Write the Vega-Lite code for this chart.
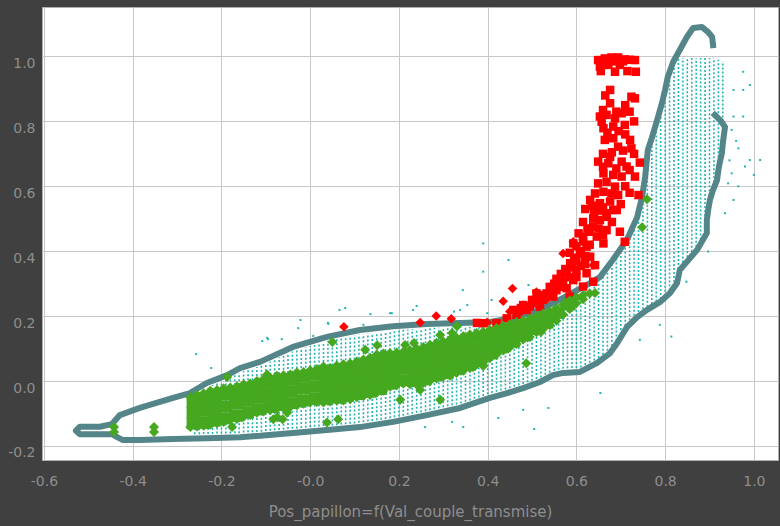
{
"$schema": "https://vega.github.io/schema/vega-lite/v6.json",
"width": 736, "height": 453,
"autosize": {"type": "none"},
"padding": {"left": 42, "top": 7, "right": 2, "bottom": 66},
"background": "#404040",
"config": {
 "view": {"fill": "#ffffff", "stroke": "#b0b0b0", "strokeWidth": 1},
 "axis": {"grid": true, "gridColor": "#c8c8c8", "gridWidth": 1, "domain": false, "ticks": false,
  "labelFont": "DejaVu Sans", "labelFontSize": 14, "labelColor": "#8e8e8e",
  "titleFont": "DejaVu Sans", "titleFontSize": 15, "titleColor": "#8e8e8e", "titleFontWeight": "normal",
  "labelFlush": false, "labelOverlap": false}
},
"datasets": {
 "cols": [
  {"x":-0.26,"y":-0.164,"y2":-0.041},{"x":-0.25,"y":-0.164,"y2":-0.033},{"x":-0.24,"y":-0.163,"y2":-0.025},{"x":-0.23,"y":-0.163,"y2":-0.017},{"x":-0.22,"y":-0.163,"y2":-0.012},{"x":-0.21,"y":-0.162,"y2":-0.007},{"x":-0.20,"y":-0.162,"y2":-0.002},{"x":-0.19,"y":-0.162,"y2":0.003},{"x":-0.18,"y":-0.162,"y2":0.010},{"x":-0.17,"y":-0.161,"y2":0.018},
  {"x":-0.16,"y":-0.161,"y2":0.025},{"x":-0.15,"y":-0.159,"y2":0.030},{"x":-0.14,"y":-0.158,"y2":0.034},{"x":-0.13,"y":-0.158,"y2":0.039},{"x":-0.12,"y":-0.157,"y2":0.043},{"x":-0.11,"y":-0.156,"y2":0.048},{"x":-0.10,"y":-0.154,"y2":0.054},{"x":-0.09,"y":-0.153,"y2":0.060},{"x":-0.08,"y":-0.152,"y2":0.066},{"x":-0.07,"y":-0.151,"y2":0.073},
  {"x":-0.06,"y":-0.150,"y2":0.079},{"x":-0.05,"y":-0.148,"y2":0.085},{"x":-0.04,"y":-0.147,"y2":0.091},{"x":-0.03,"y":-0.146,"y2":0.096},{"x":-0.02,"y":-0.145,"y2":0.100},{"x":-0.01,"y":-0.144,"y2":0.104},{"x":0.00,"y":-0.142,"y2":0.107},{"x":0.01,"y":-0.141,"y2":0.111},{"x":0.02,"y":-0.140,"y2":0.115},{"x":0.03,"y":-0.139,"y2":0.119},
  {"x":0.04,"y":-0.138,"y2":0.124},{"x":0.05,"y":-0.137,"y2":0.126},{"x":0.06,"y":-0.136,"y2":0.129},{"x":0.07,"y":-0.134,"y2":0.132},{"x":0.08,"y":-0.133,"y2":0.135},{"x":0.09,"y":-0.132,"y2":0.138},{"x":0.10,"y":-0.131,"y2":0.141},{"x":0.11,"y":-0.129,"y2":0.143},{"x":0.12,"y":-0.127,"y2":0.145},{"x":0.13,"y":-0.125,"y2":0.147},
  {"x":0.14,"y":-0.123,"y2":0.148},{"x":0.15,"y":-0.121,"y2":0.150},{"x":0.16,"y":-0.119,"y2":0.152},{"x":0.17,"y":-0.117,"y2":0.154},{"x":0.18,"y":-0.115,"y2":0.155},{"x":0.19,"y":-0.112,"y2":0.156},{"x":0.20,"y":-0.109,"y2":0.157},{"x":0.21,"y":-0.107,"y2":0.158},{"x":0.22,"y":-0.104,"y2":0.159},{"x":0.23,"y":-0.101,"y2":0.160},
  {"x":0.24,"y":-0.098,"y2":0.161},{"x":0.25,"y":-0.096,"y2":0.162},{"x":0.26,"y":-0.093,"y2":0.163},{"x":0.27,"y":-0.090,"y2":0.163},{"x":0.28,"y":-0.087,"y2":0.164},{"x":0.29,"y":-0.084,"y2":0.164},{"x":0.30,"y":-0.081,"y2":0.164},{"x":0.31,"y":-0.078,"y2":0.165},{"x":0.32,"y":-0.075,"y2":0.165},{"x":0.33,"y":-0.072,"y2":0.166},
  {"x":0.34,"y":-0.069,"y2":0.166},{"x":0.35,"y":-0.064,"y2":0.166},{"x":0.36,"y":-0.060,"y2":0.167},{"x":0.37,"y":-0.055,"y2":0.167},{"x":0.38,"y":-0.051,"y2":0.168},{"x":0.39,"y":-0.046,"y2":0.168},{"x":0.40,"y":-0.041,"y2":0.169},{"x":0.41,"y":-0.037,"y2":0.170},{"x":0.42,"y":-0.033,"y2":0.172},{"x":0.43,"y":-0.029,"y2":0.175},
  {"x":0.44,"y":-0.026,"y2":0.177},{"x":0.45,"y":-0.022,"y2":0.179},{"x":0.46,"y":-0.018,"y2":0.182},{"x":0.47,"y":-0.013,"y2":0.186},{"x":0.48,"y":-0.009,"y2":0.190},{"x":0.49,"y":-0.004,"y2":0.194},{"x":0.50,"y":0.001,"y2":0.198},{"x":0.51,"y":0.006,"y2":0.202},{"x":0.52,"y":0.011,"y2":0.207},{"x":0.53,"y":0.019,"y2":0.214},
  {"x":0.54,"y":0.026,"y2":0.221},{"x":0.55,"y":0.032,"y2":0.228},{"x":0.56,"y":0.035,"y2":0.236},{"x":0.57,"y":0.038,"y2":0.243},{"x":0.58,"y":0.039,"y2":0.250},{"x":0.59,"y":0.040,"y2":0.258},{"x":0.60,"y":0.040,"y2":0.266},{"x":0.61,"y":0.042,"y2":0.273},{"x":0.62,"y":0.049,"y2":0.281},{"x":0.63,"y":0.056,"y2":0.288},
  {"x":0.64,"y":0.063,"y2":0.300},{"x":0.65,"y":0.071,"y2":0.307},{"x":0.66,"y":0.081,"y2":0.323},{"x":0.67,"y":0.093,"y2":0.341},{"x":0.68,"y":0.108,"y2":0.359},{"x":0.69,"y":0.125,"y2":0.378},{"x":0.70,"y":0.145,"y2":0.398},{"x":0.71,"y":0.170,"y2":0.417},{"x":0.72,"y":0.187,"y2":0.440},{"x":0.73,"y":0.201,"y2":0.474},
  {"x":0.74,"y":0.213,"y2":0.512},{"x":0.75,"y":0.221,"y2":0.575},{"x":0.76,"y":0.229,"y2":0.688},{"x":0.77,"y":0.237,"y2":0.739},{"x":0.78,"y":0.245,"y2":0.785},{"x":0.79,"y":0.253,"y2":0.833},{"x":0.80,"y":0.263,"y2":0.887},{"x":0.81,"y":0.279,"y2":0.953},{"x":0.82,"y":0.305,"y2":0.995},{"x":0.83,"y":0.333,"y2":0.995},
  {"x":0.84,"y":0.365,"y2":0.995},{"x":0.85,"y":0.381,"y2":0.995},{"x":0.86,"y":0.398,"y2":0.995},{"x":0.87,"y":0.414,"y2":0.995},{"x":0.88,"y":0.436,"y2":0.995},{"x":0.89,"y":0.459,"y2":0.995},{"x":0.90,"y":0.560,"y2":0.995},{"x":0.91,"y":0.600,"y2":0.995},{"x":0.92,"y":0.665,"y2":0.990},{"x":0.93,"y":0.750,"y2":0.985}
 ],
 "dots": [
  {"x":0.654,"y":-0.037},{"x":0.480,"y":-0.089},{"x":0.537,"y":-0.083},{"x":0.505,"y":-0.148},{"x":0.424,"y":-0.114},{"x":0.345,"y":-0.142},{"x":0.259,"y":-0.142},{"x":0.320,"y":-0.126},
  {"x":0.390,"y":0.424},{"x":0.447,"y":0.373},{"x":0.390,"y":0.337},{"x":0.492,"y":0.296},{"x":0.409,"y":0.250},{"x":0.788,"y":0.173},{"x":0.814,"y":0.137},{"x":0.743,"y":0.127},
  {"x":0.897,"y":0.399},{"x":0.848,"y":0.306},{"x":0.935,"y":0.517},{"x":0.344,"y":0.280},{"x":0.324,"y":0.214},{"x":0.240,"y":0.231},{"x":0.184,"y":0.209},{"x":-0.257,"y":0.083},
  {"x":-0.223,"y":0.040},{"x":-0.108,"y":0.123},{"x":-0.095,"y":0.129},{"x":-0.064,"y":0.129},{"x":-0.027,"y":0.163},{"x":0.007,"y":0.139},{"x":0.041,"y":0.176},{"x":0.066,"y":0.219},
  {"x":0.079,"y":0.225},{"x":0.136,"y":0.206},{"x":0.120,"y":0.173},{"x":0.180,"y":0.209},{"x":0.232,"y":0.219},{"x":0.338,"y":0.219},{"x":0.354,"y":0.234},{"x":0.399,"y":0.209},
  {"x":-0.022,"y":0.188},{"x":0.040,"y":0.179},{"x":-0.097,"y":0.133},{"x":0.976,"y":0.953},{"x":0.991,"y":0.912},{"x":0.954,"y":0.897},{"x":0.976,"y":0.897},{"x":0.954,"y":0.815},
  {"x":0.976,"y":0.815},{"x":0.965,"y":0.717},{"x":0.991,"y":0.681},{"x":0.980,"y":0.661},{"x":1.000,"y":0.635},{"x":0.942,"y":0.609},{"x":0.954,"y":0.558},{"x":0.950,"y":0.774},
  {"x":1.014,"y":0.681},{"x":0.960,"y":0.740},{"x":0.945,"y":0.680},{"x":0.950,"y":0.640},{"x":0.965,"y":0.600}
 ],
 "contour": [
  {"i":1,"x":0.912,"y":0.820},{"i":2,"x":0.924,"y":0.804},{"i":3,"x":0.935,"y":0.783},{"i":4,"x":0.930,"y":0.733},{"i":5,"x":0.928,"y":0.703},{"i":6,"x":0.921,"y":0.659},{"i":7,"x":0.917,"y":0.619},{"i":8,"x":0.908,"y":0.589},{"i":9,"x":0.901,"y":0.558},{"i":10,"x":0.897,"y":0.527},
  {"i":11,"x":0.894,"y":0.496},{"i":12,"x":0.894,"y":0.456},{"i":13,"x":0.872,"y":0.404},{"i":14,"x":0.849,"y":0.367},{"i":15,"x":0.833,"y":0.342},{"i":16,"x":0.827,"y":0.302},{"i":17,"x":0.811,"y":0.271},{"i":18,"x":0.788,"y":0.243},{"i":19,"x":0.759,"y":0.219},{"i":20,"x":0.737,"y":0.197},
  {"i":21,"x":0.714,"y":0.166},{"i":22,"x":0.692,"y":0.117},{"i":23,"x":0.676,"y":0.086},{"i":24,"x":0.646,"y":0.055},{"i":25,"x":0.608,"y":0.028},{"i":26,"x":0.570,"y":0.025},{"i":27,"x":0.547,"y":0.018},{"i":28,"x":0.518,"y":-0.003},{"i":29,"x":0.480,"y":-0.022},{"i":30,"x":0.444,"y":-0.037},
  {"i":31,"x":0.405,"y":-0.052},{"i":32,"x":0.338,"y":-0.083},{"i":33,"x":0.263,"y":-0.105},{"i":34,"x":0.187,"y":-0.126},{"i":35,"x":0.112,"y":-0.142},{"i":36,"x":0.038,"y":-0.151},{"i":37,"x":-0.039,"y":-0.160},{"i":38,"x":-0.113,"y":-0.169},{"i":39,"x":-0.158,"y":-0.173},{"i":40,"x":-0.233,"y":-0.176},
  {"i":41,"x":-0.309,"y":-0.179},{"i":42,"x":-0.384,"y":-0.182},{"i":43,"x":-0.422,"y":-0.182},{"i":44,"x":-0.435,"y":-0.173},{"i":45,"x":-0.447,"y":-0.164},{"i":46,"x":-0.474,"y":-0.164},{"i":47,"x":-0.519,"y":-0.164},{"i":48,"x":-0.528,"y":-0.153},{"i":49,"x":-0.519,"y":-0.141},{"i":50,"x":-0.474,"y":-0.141},
  {"i":51,"x":-0.447,"y":-0.133},{"i":52,"x":-0.429,"y":-0.105},{"i":53,"x":-0.384,"y":-0.083},{"i":54,"x":-0.309,"y":-0.052},{"i":55,"x":-0.271,"y":-0.037},{"i":56,"x":-0.233,"y":-0.006},{"i":57,"x":-0.187,"y":0.018},{"i":58,"x":-0.158,"y":0.040},{"i":59,"x":-0.113,"y":0.059},{"i":60,"x":-0.039,"y":0.105},
  {"i":61,"x":0.038,"y":0.136},{"i":62,"x":0.112,"y":0.157},{"i":63,"x":0.187,"y":0.169},{"i":64,"x":0.263,"y":0.176},{"i":65,"x":0.338,"y":0.179},{"i":66,"x":0.405,"y":0.182},{"i":67,"x":0.457,"y":0.194},{"i":68,"x":0.518,"y":0.219},{"i":69,"x":0.570,"y":0.256},{"i":70,"x":0.631,"y":0.302},
  {"i":71,"x":0.653,"y":0.320},{"i":72,"x":0.682,"y":0.373},{"i":73,"x":0.714,"y":0.435},{"i":74,"x":0.737,"y":0.505},{"i":75,"x":0.748,"y":0.567},{"i":76,"x":0.755,"y":0.629},{"i":77,"x":0.761,"y":0.712},{"i":78,"x":0.770,"y":0.749},{"i":79,"x":0.782,"y":0.804},{"i":80,"x":0.793,"y":0.857},
  {"i":81,"x":0.800,"y":0.897},{"i":82,"x":0.806,"y":0.937},{"i":83,"x":0.818,"y":0.983},{"i":84,"x":0.833,"y":1.020},{"i":85,"x":0.849,"y":1.060},{"i":86,"x":0.863,"y":1.088},{"i":87,"x":0.883,"y":1.091},{"i":88,"x":0.897,"y":1.075},{"i":89,"x":0.906,"y":1.060},{"i":90,"x":0.908,"y":1.035}
 ],
 "redsq": [
  {"x":0.649,"y":0.989},{"x":0.664,"y":0.994},{"x":0.679,"y":0.997},{"x":0.694,"y":0.997},{"x":0.709,"y":0.991},{"x":0.732,"y":0.989},{"x":0.653,"y":0.969},{"x":0.672,"y":0.974},{"x":0.687,"y":0.953},{"x":0.698,"y":0.974},
  {"x":0.734,"y":0.953},{"x":0.676,"y":0.897},{"x":0.724,"y":0.876},{"x":0.732,"y":0.871},{"x":0.676,"y":0.856},{"x":0.653,"y":0.815},{"x":0.668,"y":0.820},{"x":0.657,"y":0.799},{"x":0.702,"y":0.825},{"x":0.709,"y":0.789},
  {"x":0.687,"y":0.809},{"x":0.661,"y":0.779},{"x":0.683,"y":0.784},{"x":0.664,"y":0.743},{"x":0.683,"y":0.748},{"x":0.694,"y":0.722},{"x":0.721,"y":0.743},{"x":0.724,"y":0.717},{"x":0.649,"y":0.676},{"x":0.676,"y":0.691},
  {"x":0.672,"y":0.671},{"x":0.702,"y":0.676},{"x":0.713,"y":0.661},{"x":0.743,"y":0.673},{"x":0.661,"y":0.640},{"x":0.683,"y":0.635},{"x":0.702,"y":0.630},{"x":0.649,"y":0.609},{"x":0.668,"y":0.614},{"x":0.687,"y":0.599},
  {"x":0.732,"y":0.630},{"x":0.642,"y":0.578},{"x":0.661,"y":0.583},{"x":0.679,"y":0.578},{"x":0.694,"y":0.573},{"x":0.740,"y":0.573},{"x":0.631,"y":0.558},{"x":0.653,"y":0.548},{"x":0.676,"y":0.553},{"x":0.668,"y":0.517},
  {"x":0.691,"y":0.527},{"x":0.638,"y":0.501},{"x":0.668,"y":0.506},{"x":0.683,"y":0.527},{"x":0.653,"y":0.496},{"x":0.638,"y":0.476},{"x":0.668,"y":0.465},{"x":0.698,"y":0.460},{"x":0.709,"y":0.429},{"x":0.615,"y":0.445},
  {"x":0.646,"y":0.445},{"x":0.593,"y":0.424},{"x":0.623,"y":0.414},{"x":0.661,"y":0.424},{"x":0.608,"y":0.393},{"x":0.631,"y":0.383},{"x":0.642,"y":0.357},{"x":0.586,"y":0.363},{"x":0.600,"y":0.342},{"x":0.578,"y":0.332},
  {"x":0.623,"y":0.332},{"x":0.563,"y":0.311},{"x":0.593,"y":0.311},{"x":0.638,"y":0.306},{"x":0.533,"y":0.270},{"x":0.555,"y":0.280},{"x":0.578,"y":0.286},{"x":0.615,"y":0.291},{"x":0.510,"y":0.270},{"x":0.480,"y":0.234},
  {"x":0.503,"y":0.239},{"x":0.525,"y":0.250},{"x":0.458,"y":0.219},{"x":0.488,"y":0.219},{"x":0.518,"y":0.229},{"x":0.548,"y":0.260},{"x":0.585,"y":0.260},{"x":0.420,"y":0.178},{"x":0.443,"y":0.193},{"x":0.465,"y":0.204},
  {"x":0.390,"y":0.178},{"x":0.376,"y":0.179},{"x":0.550,"y":0.300},{"x":0.565,"y":0.330},{"x":0.600,"y":0.370},{"x":0.610,"y":0.400},{"x":0.625,"y":0.470},{"x":0.645,"y":0.530},{"x":0.660,"y":0.450},{"x":0.680,"y":0.490},
  {"x":0.540,"y":0.290},{"x":0.500,"y":0.250},{"x":0.470,"y":0.215},{"x":0.600,"y":0.320},{"x":0.620,"y":0.360},
  {"x":0.475,"y":0.225},{"x":0.495,"y":0.230},{"x":0.515,"y":0.245},{"x":0.530,"y":0.255},{"x":0.545,"y":0.270},{"x":0.520,"y":0.265},{"x":0.560,"y":0.290},{"x":0.570,"y":0.305},{"x":0.585,"y":0.320},{"x":0.555,"y":0.315},
  {"x":0.575,"y":0.345},{"x":0.590,"y":0.350},{"x":0.610,"y":0.355},{"x":0.595,"y":0.380},{"x":0.620,"y":0.385},{"x":0.585,"y":0.395},{"x":0.600,"y":0.415},{"x":0.615,"y":0.430},{"x":0.630,"y":0.420},{"x":0.605,"y":0.455},
  {"x":0.630,"y":0.460},{"x":0.650,"y":0.470},{"x":0.615,"y":0.490},{"x":0.640,"y":0.515},{"x":0.655,"y":0.525},{"x":0.620,"y":0.530},{"x":0.635,"y":0.540},{"x":0.660,"y":0.535},{"x":0.700,"y":0.545},{"x":0.710,"y":0.600},
  {"x":0.720,"y":0.580},{"x":0.720,"y":0.650},{"x":0.660,"y":0.660},{"x":0.690,"y":0.655},{"x":0.730,"y":0.700},{"x":0.705,"y":0.710},{"x":0.680,"y":0.705},{"x":0.660,"y":0.700},{"x":0.710,"y":0.760},{"x":0.695,"y":0.770},
  {"x":0.670,"y":0.765},{"x":0.730,"y":0.800},{"x":0.720,"y":0.830},{"x":0.690,"y":0.830},{"x":0.660,"y":0.835},{"x":0.710,"y":0.850},{"x":0.665,"y":0.880},{"x":0.655,"y":0.955},{"x":0.715,"y":0.955},{"x":0.705,"y":0.985},
  {"x":0.720,"y":0.990},{"x":0.660,"y":0.985},{"x":0.685,"y":0.985}
 ],
 "reddm": [
  {"x":0.076,"y":0.167},{"x":0.248,"y":0.180},{"x":0.284,"y":0.200},{"x":0.318,"y":0.192},{"x":0.399,"y":0.181},{"x":0.421,"y":0.177},{"x":0.435,"y":0.246},{"x":0.456,"y":0.285},{"x":0.450,"y":0.214},{"x":0.480,"y":0.234},
  {"x":0.510,"y":0.274},{"x":0.570,"y":0.393},{"x":0.593,"y":0.429},{"x":0.638,"y":0.357}
 ],
 "greensq": [
  {"x":-0.265,"y":-0.130},{"x":-0.265,"y":-0.098},{"x":-0.265,"y":-0.065},
  {"x":-0.24,"y":-0.129},{"x":-0.24,"y":-0.092},{"x":-0.24,"y":-0.056},
  {"x":-0.215,"y":-0.122},{"x":-0.215,"y":-0.097},{"x":-0.215,"y":-0.072},{"x":-0.215,"y":-0.047},
  {"x":-0.19,"y":-0.115},{"x":-0.19,"y":-0.078},{"x":-0.19,"y":-0.041},
  {"x":-0.165,"y":-0.107},{"x":-0.165,"y":-0.070},{"x":-0.165,"y":-0.034},
  {"x":-0.14,"y":-0.097},{"x":-0.14,"y":-0.061},{"x":-0.14,"y":-0.025},
  {"x":-0.115,"y":-0.087},{"x":-0.115,"y":-0.051},{"x":-0.115,"y":-0.016},
  {"x":-0.09,"y":-0.080},{"x":-0.09,"y":-0.043},{"x":-0.09,"y":-0.006},
  {"x":-0.065,"y":-0.074},{"x":-0.065,"y":-0.037},{"x":-0.065,"y":0.000},
  {"x":-0.04,"y":-0.068},{"x":-0.04,"y":-0.031},{"x":-0.04,"y":0.006},
  {"x":-0.015,"y":-0.060},{"x":-0.015,"y":-0.023},{"x":-0.015,"y":0.013},
  {"x":0.01,"y":-0.055},{"x":0.01,"y":-0.018},{"x":0.01,"y":0.019},
  {"x":0.035,"y":-0.054},{"x":0.035,"y":-0.028},{"x":0.035,"y":-0.001},{"x":0.035,"y":0.025},
  {"x":0.06,"y":-0.051},{"x":0.06,"y":-0.024},{"x":0.06,"y":0.004},{"x":0.06,"y":0.031},
  {"x":0.085,"y":-0.046},{"x":0.085,"y":-0.018},{"x":0.085,"y":0.010},{"x":0.085,"y":0.038},
  {"x":0.11,"y":-0.040},{"x":0.11,"y":-0.012},{"x":0.11,"y":0.016},{"x":0.11,"y":0.044},
  {"x":0.135,"y":-0.033},{"x":0.135,"y":-0.003},{"x":0.135,"y":0.026},{"x":0.135,"y":0.056},
  {"x":0.16,"y":-0.024},{"x":0.16,"y":0.006},{"x":0.16,"y":0.035},{"x":0.16,"y":0.065},
  {"x":0.185,"y":-0.008},{"x":0.185,"y":0.018},{"x":0.185,"y":0.043},{"x":0.185,"y":0.069},
  {"x":0.21,"y":0.002},{"x":0.21,"y":0.038},{"x":0.21,"y":0.074},
  {"x":0.235,"y":0.000},{"x":0.235,"y":0.027},{"x":0.235,"y":0.054},{"x":0.235,"y":0.081},
  {"x":0.26,"y":0.005},{"x":0.26,"y":0.033},{"x":0.26,"y":0.061},{"x":0.26,"y":0.089},
  {"x":0.285,"y":0.018},{"x":0.285,"y":0.045},{"x":0.285,"y":0.073},{"x":0.285,"y":0.100},
  {"x":0.31,"y":0.025},{"x":0.31,"y":0.053},{"x":0.31,"y":0.081},{"x":0.31,"y":0.109},
  {"x":0.335,"y":0.038},{"x":0.335,"y":0.065},{"x":0.335,"y":0.091},{"x":0.335,"y":0.118},
  {"x":0.36,"y":0.050},{"x":0.36,"y":0.076},{"x":0.36,"y":0.101},{"x":0.36,"y":0.127},
  {"x":0.385,"y":0.066},{"x":0.385,"y":0.101},{"x":0.385,"y":0.136},
  {"x":0.41,"y":0.085},{"x":0.41,"y":0.115},{"x":0.41,"y":0.144},
  {"x":0.435,"y":0.104},{"x":0.435,"y":0.129},{"x":0.435,"y":0.154},
  {"x":0.46,"y":0.122},{"x":0.46,"y":0.143},{"x":0.46,"y":0.164},
  {"x":0.485,"y":0.141},{"x":0.485,"y":0.172},
  {"x":0.51,"y":0.160},{"x":0.51,"y":0.184},
  {"x":0.535,"y":0.180},{"x":0.535,"y":0.197},
  {"x":0.56,"y":0.210},{"x":0.585,"y":0.236}
 ],
 "greendm": [
  {"x":-0.27,"y":-0.050},{"x":-0.255,"y":-0.042},{"x":-0.24,"y":-0.038},{"x":-0.225,"y":-0.030},{"x":-0.21,"y":-0.028},{"x":-0.195,"y":-0.022},{"x":-0.18,"y":-0.020},{"x":-0.165,"y":-0.016},{"x":-0.15,"y":-0.010},{"x":-0.135,"y":-0.008},
  {"x":-0.12,"y":0.000},{"x":-0.105,"y":0.006},{"x":-0.09,"y":0.010},{"x":-0.075,"y":0.016},{"x":-0.06,"y":0.018},{"x":-0.045,"y":0.020},{"x":-0.03,"y":0.026},{"x":-0.015,"y":0.028},{"x":0.0,"y":0.033},{"x":0.015,"y":0.037},
  {"x":0.03,"y":0.045},{"x":0.045,"y":0.040},{"x":0.06,"y":0.048},{"x":0.075,"y":0.052},{"x":0.09,"y":0.055},{"x":0.105,"y":0.060},{"x":0.12,"y":0.066},{"x":0.135,"y":0.072},{"x":0.15,"y":0.082},{"x":0.165,"y":0.085},
  {"x":0.18,"y":0.086},{"x":0.195,"y":0.088},{"x":0.21,"y":0.090},{"x":0.225,"y":0.095},{"x":0.24,"y":0.100},{"x":0.255,"y":0.105},{"x":0.27,"y":0.112},{"x":0.285,"y":0.118},{"x":0.30,"y":0.122},{"x":0.315,"y":0.128},
  {"x":0.33,"y":0.133},{"x":0.345,"y":0.138},{"x":0.36,"y":0.143},{"x":0.375,"y":0.148},{"x":0.39,"y":0.152},{"x":0.405,"y":0.158},{"x":0.42,"y":0.163},{"x":0.435,"y":0.170},{"x":0.45,"y":0.175},{"x":0.465,"y":0.182},
  {"x":0.48,"y":0.186},{"x":0.495,"y":0.192},{"x":0.51,"y":0.200},{"x":0.525,"y":0.208},{"x":0.54,"y":0.215},{"x":0.555,"y":0.224},{"x":0.57,"y":0.236},{"x":0.585,"y":0.248},{"x":0.60,"y":0.258},{"x":0.615,"y":0.264},{"x":0.63,"y":0.270},
  {"x":-0.27,"y":-0.142},{"x":-0.255,"y":-0.140},{"x":-0.24,"y":-0.138},{"x":-0.225,"y":-0.135},{"x":-0.21,"y":-0.130},{"x":-0.195,"y":-0.126},{"x":-0.18,"y":-0.120},{"x":-0.165,"y":-0.117},{"x":-0.15,"y":-0.110},{"x":-0.135,"y":-0.105},
  {"x":-0.12,"y":-0.098},{"x":-0.105,"y":-0.094},{"x":-0.09,"y":-0.090},{"x":-0.075,"y":-0.086},{"x":-0.06,"y":-0.083},{"x":-0.045,"y":-0.080},{"x":-0.03,"y":-0.075},{"x":-0.015,"y":-0.070},{"x":0.0,"y":-0.066},{"x":0.015,"y":-0.065},
  {"x":0.03,"y":-0.066},{"x":0.045,"y":-0.063},{"x":0.06,"y":-0.061},{"x":0.075,"y":-0.060},{"x":0.09,"y":-0.056},{"x":0.105,"y":-0.050},{"x":0.12,"y":-0.046},{"x":0.135,"y":-0.043},{"x":0.15,"y":-0.036},{"x":0.165,"y":-0.030},
  {"x":0.18,"y":-0.018},{"x":0.195,"y":-0.012},{"x":0.21,"y":-0.008},{"x":0.225,"y":-0.010},{"x":0.24,"y":-0.011},{"x":0.255,"y":-0.006},{"x":0.27,"y":0.000},{"x":0.285,"y":0.008},{"x":0.30,"y":0.013},{"x":0.315,"y":0.016},
  {"x":0.33,"y":0.025},{"x":0.345,"y":0.032},{"x":0.36,"y":0.040},{"x":0.375,"y":0.050},{"x":0.39,"y":0.058},{"x":0.405,"y":0.070},{"x":0.42,"y":0.082},{"x":0.435,"y":0.094},{"x":0.45,"y":0.104},{"x":0.465,"y":0.114},
  {"x":0.48,"y":0.128},{"x":0.495,"y":0.136},{"x":0.51,"y":0.150},{"x":0.525,"y":0.160},{"x":0.54,"y":0.172},{"x":0.555,"y":0.186},{"x":0.57,"y":0.205},{"x":0.585,"y":0.222},{"x":0.60,"y":0.240},{"x":0.615,"y":0.252},
  {"x":-0.442,"y":-0.142},{"x":-0.442,"y":-0.157},{"x":-0.352,"y":-0.142},{"x":-0.352,"y":-0.157},{"x":-0.187,"y":0.012},{"x":-0.176,"y":-0.142},{"x":-0.083,"y":-0.118},{"x":-0.074,"y":-0.112},{"x":-0.062,"y":-0.118},{"x":-0.052,"y":-0.098},
  {"x":0.038,"y":-0.128},{"x":0.063,"y":-0.118},{"x":0.050,"y":0.120},{"x":0.151,"y":0.110},{"x":0.124,"y":0.096},{"x":0.169,"y":0.080},{"x":0.203,"y":-0.058},{"x":0.214,"y":0.111},{"x":0.234,"y":0.117},{"x":0.248,"y":-0.028},
  {"x":0.293,"y":-0.058},{"x":0.293,"y":0.142},{"x":0.320,"y":0.148},{"x":0.331,"y":0.169},{"x":0.367,"y":0.043},{"x":0.390,"y":0.046},{"x":0.487,"y":0.055},{"x":0.520,"y":0.151},{"x":-0.097,"y":0.020},{"x":0.642,"y":0.271},
  {"x":0.748,"y":0.474},{"x":0.759,"y":0.560}
 ]
},
"encoding": {
 "x": {"field": "x", "type": "quantitative",
  "scale": {"domain": [-0.6044, 1.0544], "nice": false, "zero": false},
  "axis": {"values": [-0.6,-0.4,-0.2,0,0.2,0.4,0.6,0.8,1.0],
   "labelExpr": "datum.value < -0.01 ? '-' + format(-datum.value, '.1f') : (datum.value < 0.01 ? '-0.0' : format(datum.value, '.1f'))",
   "labelPadding": 14, "title": "Pos_papillon=f(Val_couple_transmise)", "titleY": 56, "titleBaseline": "alphabetic"}},
 "y": {"field": "y", "type": "quantitative",
  "scale": {"domain": [-0.2434, 1.1525], "nice": false, "zero": false},
  "axis": {"values": [-0.2,0,0.2,0.4,0.6,0.8,1.0],
   "labelExpr": "datum.value < -0.01 ? '-' + format(-datum.value, '.1f') : format(datum.value, '.1f')",
   "labelPadding": 7, "labelBaseline": "top", "title": null}}
},
"layer": [
 {"data": {"name": "cols"}, "mark": {"type": "rule", "color": "#22b3b3", "strokeWidth": 1.6, "strokeDash": [2, 2]},
  "encoding": {"y2": {"field": "y2"}}},
 {"data": {"name": "dots"}, "mark": {"type": "point", "shape": "square", "filled": true, "size": 4, "color": "#22b3b3", "opacity": 1}},
 {"data": {"name": "contour"}, "mark": {"type": "line", "color": "#548588", "strokeWidth": 6, "strokeJoin": "round", "strokeCap": "square"},
  "encoding": {"order": {"field": "i", "type": "quantitative"}}},
 {"data": {"name": "redsq"}, "mark": {"type": "point", "shape": "square", "filled": true, "size": 72, "color": "#ff0000", "opacity": 1}},
 {"data": {"name": "reddm"}, "mark": {"type": "point", "shape": "diamond", "filled": true, "size": 90, "color": "#ff0000", "opacity": 1}},
 {"data": {"name": "greensq"}, "mark": {"type": "point", "shape": "square", "filled": true, "size": 144, "color": "#45a81f", "opacity": 1}},
 {"data": {"name": "greendm"}, "mark": {"type": "point", "shape": "diamond", "filled": true, "size": 100, "color": "#45a81f", "opacity": 1}}
]
}
